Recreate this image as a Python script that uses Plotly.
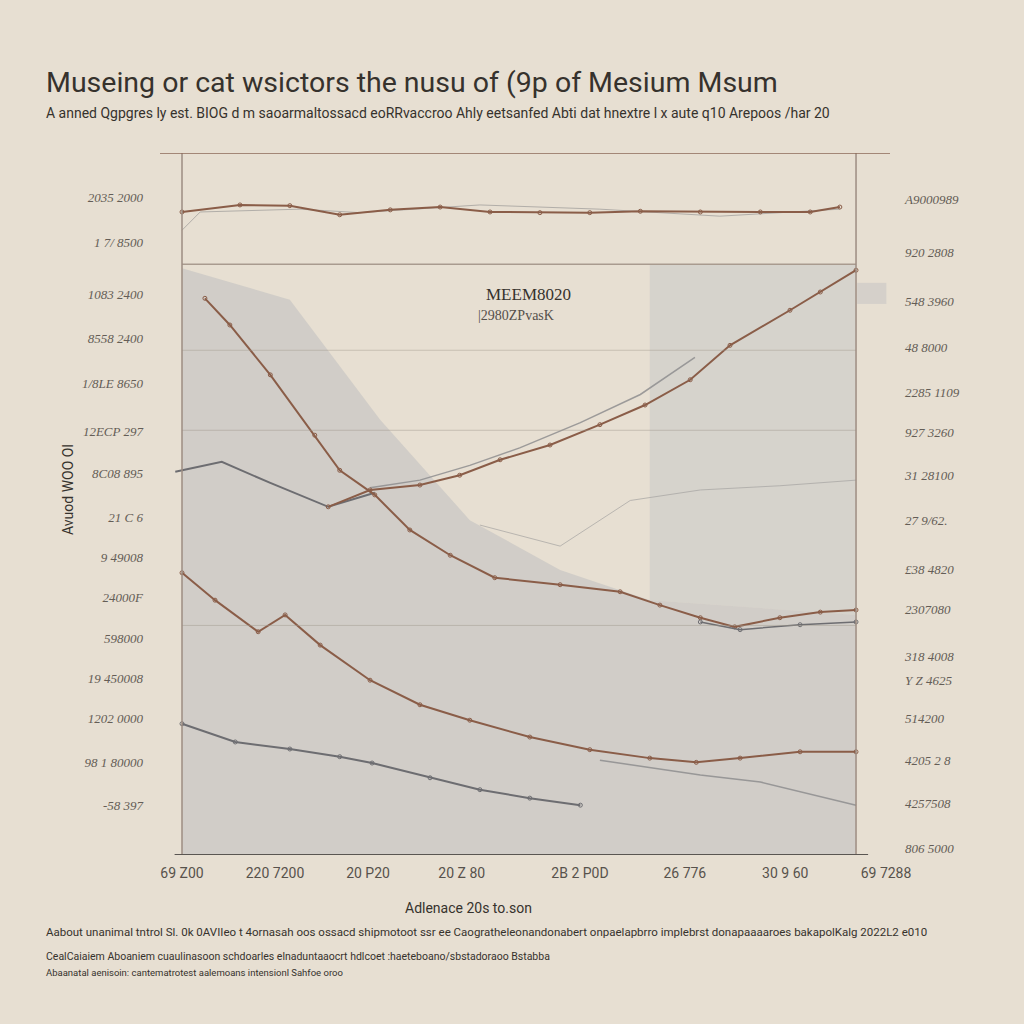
import plotly.graph_objects as go

# ---------------- data (x: 0..100 index scale, y: 0..100 value scale) ----------------
x_tick_vals = [0, 13.8, 27.6, 41.5, 59.05, 74.6, 89.5, 104.45]
x_tick_text = ["69 Z00", "220 7200", "20 P20", "20 Z 80", "2B 2 P0D", "26 776", "30 9 60", "69 7288"]

left_tick_vals = [93.7, 87.3, 79.9, 73.65, 67.2, 60.3, 54.3, 48.15, 42.45, 36.75, 30.9, 25.2, 19.5, 13.25, 7.0]
left_tick_text = ["2035 2000", "1 7/ 8500", "1083 2400", "8558 2400", "1/8LE 8650", "12ECP 297",
                  "8C08 895", "21 C 6", "9 49008", "24000F", "598000", "19 450008",
                  "1202 0000", "98 1 80000", "-58 397"]

right_tick_vals = [93.45, 85.9, 78.8, 72.35, 65.95, 60.25, 54.1, 47.7, 40.75, 35.05, 28.35, 24.9, 19.5, 13.5, 7.4, 1.0]
right_tick_text = ["A9000989", "920 2808", "548 3960", "48 8000", "2285 1109", "927 3260",
                   "31 28100", "27 9/62.", "£38 4820", "2307080", "318 4008", "Y Z 4625",
                   "514200", "4205 2 8", "4257508", "806 5000"]

top_x = [0, 8.6, 16.0, 23.4, 30.9, 38.3, 45.7, 53.1, 60.5, 68.0, 76.9, 85.8, 93.2, 97.6]
top_y = [91.6, 92.6, 92.5, 91.2, 91.9, 92.3, 91.6, 91.5, 91.5, 91.7, 91.6, 91.6, 91.6, 92.3]

top_faint_x = [0, 2.7, 17.5, 26.4, 44.2, 62.0, 79.8, 97.6]
top_faint_y = [89.0, 91.6, 92.0, 91.5, 92.6, 92.0, 91.0, 92.0]

diag_x = [3.4, 7.1, 13.1, 19.7, 23.4, 28.6, 33.8, 39.8, 46.4, 56.1, 65.0, 70.9, 76.9, 82.0, 88.7, 94.7, 100]
diag_y = [79.3, 75.5, 68.4, 59.8, 54.8, 51.3, 46.3, 42.7, 39.5, 38.5, 37.5, 35.6, 33.8, 32.5, 33.8, 34.6, 34.9]

midgray_x = [-1.0, 5.9, 13.1, 21.7, 28.6]
midgray_y = [54.6, 56.0, 53.0, 49.6, 51.6]

rise_x = [21.7, 27.9, 35.3, 41.2, 47.2, 54.6, 62.0, 68.7, 75.4, 81.3, 90.2, 94.7, 100]
rise_y = [49.6, 52.0, 52.7, 54.1, 56.3, 58.4, 61.3, 64.1, 67.7, 72.6, 77.6, 80.2, 83.3]

rise_gray_x = [27.9, 35.3, 42.7, 50.1, 59.1, 68.0, 76.1]
rise_gray_y = [52.3, 53.4, 55.5, 58.0, 61.6, 65.6, 70.9]

faint_right_x = [44.2, 56.1, 66.5, 76.9, 88.7, 100]
faint_right_y = [47.0, 44.0, 50.5, 52.0, 52.6, 53.4]

low_x = [0, 4.9, 11.3, 15.3, 20.5, 27.9, 35.3, 42.7, 51.6, 60.5, 69.4, 76.3, 82.8, 91.7, 100]
low_y = [40.2, 36.3, 31.8, 34.2, 29.9, 24.9, 21.4, 19.2, 16.8, 15.0, 13.8, 13.2, 13.8, 14.7, 14.7]

gray_low_x = [0, 7.9, 16.0, 23.4, 28.2, 36.8, 44.2, 51.6, 59.1]
gray_low_y = [18.7, 16.1, 15.1, 14.0, 13.1, 11.0, 9.3, 8.1, 7.1]

gray_low2_x = [62.0, 76.9, 85.8, 100]
gray_low2_y = [13.5, 11.4, 10.4, 7.1]

gray_right_x = [76.9, 82.8, 91.7, 100]
gray_right_y = [33.2, 32.1, 32.8, 33.2]

shade_x = [0, 16.0, 29.4, 42.7, 56.1, 69.4, 100]
shade_y = [83.6, 79.1, 62.0, 47.7, 40.6, 36.3, 34.2]

box_x = [69.4, 100, 100, 69.4, 69.4]
box_y = [36.3, 34.2, 84.1, 84.1, 36.3]

grid_y = [84.15, 71.9, 60.5, 32.7]

# ---------------- styling ----------------
BG = "#e7dfd2"
BROWN = "#8a5d48"
GRAY = "#6d6d71"
TXT = "#36322d"
TICK = "#645d56"

fig = go.Figure()

fig.add_trace(go.Scatter(x=shade_x, y=shade_y, mode="lines", line=dict(width=0),
                         fill="tozeroy", fillcolor="rgba(178,182,186,0.42)", hoverinfo="skip", showlegend=False))
fig.add_trace(go.Scatter(x=box_x, y=box_y, mode="lines", line=dict(width=0),
                         fill="toself", fillcolor="rgba(190,192,194,0.40)", hoverinfo="skip", showlegend=False))

def line(x, y, color, width, markers=False, opacity=1.0):
    fig.add_trace(go.Scatter(x=x, y=y, mode="lines+markers" if markers else "lines",
                             line=dict(color=color, width=width),
                             marker=dict(size=4, color="rgba(0,0,0,0)", line=dict(color=color, width=1)),
                             opacity=opacity, hoverinfo="skip", showlegend=False))

line(top_faint_x, top_faint_y, "#9c9a98", 1, opacity=0.7)
line(faint_right_x, faint_right_y, "#a6a4a2", 1, opacity=0.7)
line(top_x, top_y, BROWN, 2, markers=True)
line(midgray_x, midgray_y, GRAY, 2)
line(rise_gray_x, rise_gray_y, "#8a8a8c", 1.5, opacity=0.8)
line(diag_x, diag_y, BROWN, 2, markers=True)
line(rise_x, rise_y, BROWN, 2, markers=True)
line(low_x, low_y, BROWN, 2, markers=True)
line(gray_low_x, gray_low_y, GRAY, 2, markers=True)
line(gray_low2_x, gray_low2_y, "#8a8a8c", 1.5, opacity=0.8)
line(gray_right_x, gray_right_y, GRAY, 1.5, markers=True)

# invisible trace to anchor right axis
fig.add_trace(go.Scatter(x=[0], y=[0], yaxis="y2", mode="markers", marker=dict(opacity=0),
                         hoverinfo="skip", showlegend=False))

shapes = []
for i, gy in enumerate(grid_y):
    shapes.append(dict(type="line", xref="x", yref="y", x0=0, x1=100, y0=gy, y1=gy,
                       line=dict(color="#a99b8f" if i == 0 else "rgba(160,150,140,0.45)", width=1.5 if i == 0 else 1)))
# soft shadow strip just right of the frame
shapes.append(dict(type="rect", xref="paper", yref="y", x0=0.955, x1=0.995, y0=78.5, y1=81.5,
                   line=dict(width=0), fillcolor="rgba(190,190,192,0.45)", layer="below"))
# frame
shapes.append(dict(type="line", xref="x", yref="y", x0=0, x1=0, y0=0, y1=100, line=dict(color="#9d8d82", width=1.5)))
shapes.append(dict(type="line", xref="x", yref="y", x0=100, x1=100, y0=0, y1=100, line=dict(color="#9d8d82", width=1.5)))
shapes.append(dict(type="line", xref="paper", yref="y", x0=0, x1=1, y0=100, y1=100, line=dict(color="#8c6a58", width=1.5)))
shapes.append(dict(type="line", xref="paper", yref="y", x0=0.02, x1=0.97, y0=0, y1=0, line=dict(color="#5a5652", width=2)))

tick_font = dict(family="Liberation Serif", size=13, color=TICK, style="italic")

fig.update_layout(
    width=1024, height=1024,
    paper_bgcolor=BG, plot_bgcolor=BG,
    margin=dict(l=160, r=134, t=153, b=169),
    showlegend=False,
    shapes=shapes,
    xaxis=dict(range=[-3.264, 105.04], tickvals=x_tick_vals, ticktext=x_tick_text,
               showgrid=False, zeroline=False, showline=False, ticks="",
               tickfont=dict(family="Roboto", size=14, color="#57524c"), ticklabelstandoff=8),
    yaxis=dict(range=[0, 100], tickvals=left_tick_vals, ticktext=left_tick_text,
               showgrid=False, zeroline=False, showline=False, ticks="",
               tickfont=tick_font, ticklabelstandoff=16),
    yaxis2=dict(range=[0, 100], overlaying="y", side="right", tickvals=right_tick_vals, ticktext=right_tick_text,
                showgrid=False, zeroline=False, showline=False, ticks="",
                tickfont=tick_font, ticklabelstandoff=14),
)

annotations = [
    dict(text="Museing or cat wsictors the nusu of (9p of Mesium Msum", x=-0.159, y=1.101,
         xref="paper", yref="paper", xanchor="left", yanchor="middle", showarrow=False,
         font=dict(family="Roboto", size=28.5, color=TXT)),
    dict(text="A anned Qgpgres ly est. BIOG d m saoarmaltossacd eoRRvaccroo Ahly eetsanfed Abti dat hnextre l x aute q10 Arepoos /har 20",
         x=-0.159, y=1.057, xref="paper", yref="paper", xanchor="left", yanchor="middle", showarrow=False,
         font=dict(family="Roboto", size=14, color=TXT)),
    dict(text="MEEM8020", x=44.8, y=79.9, xref="x", yref="y", xanchor="left", yanchor="middle",
         showarrow=False, font=dict(family="Liberation Serif", size=17, color=TXT)),
    dict(text="|2980ZPvasK", x=43.6, y=76.8, xref="x", yref="y", xanchor="left", yanchor="middle",
         showarrow=False, font=dict(family="Liberation Serif", size=14, color="#55504a")),
    dict(text="Avuod WOO Ol", x=-0.126, y=0.52, xref="paper", yref="paper", textangle=-90,
         xanchor="center", yanchor="middle", showarrow=False,
         font=dict(family="Roboto", size=14, color=TXT)),
    dict(text="Adlenace 20s to.son", x=0.422, y=-0.0755, xref="paper", yref="paper",
         xanchor="center", yanchor="middle", showarrow=False,
         font=dict(family="Roboto", size=14, color=TXT)),
    dict(text="Aabout unanimal tntrol Sl. 0k 0AVIIeo t 4ornasah oos ossacd shipmotoot ssr ee Caogratheleonandonabert onpaelapbrro implebrst donapaaaaroes bakapolKalg 2022L2 e010",
         x=-0.159, y=-0.1097, xref="paper", yref="paper", xanchor="left", yanchor="middle", showarrow=False,
         font=dict(family="Roboto", size=11.5, color=TXT)),
    dict(text="CealCaiaiem Aboaniem cuaulinasoon schdoarles elnaduntaaocrt hdlcoet :haeteboano/sbstadoraoo Bstabba",
         x=-0.159, y=-0.145, xref="paper", yref="paper", xanchor="left", yanchor="middle", showarrow=False,
         font=dict(family="Roboto", size=10.5, color=TXT)),
    dict(text="Abaanatal aenisoin: cantematrotest aalemoans intensionl Sahfoe oroo",
         x=-0.159, y=-0.168, xref="paper", yref="paper", xanchor="left", yanchor="middle", showarrow=False,
         font=dict(family="Roboto", size=9.5, color=TXT)),
]
fig.update_layout(annotations=annotations)

fig.write_html(
    "out.html",
    config={"displayModeBar": False},
    post_script="document.body.style.margin='0';document.body.style.background='%s';" % BG,
)
